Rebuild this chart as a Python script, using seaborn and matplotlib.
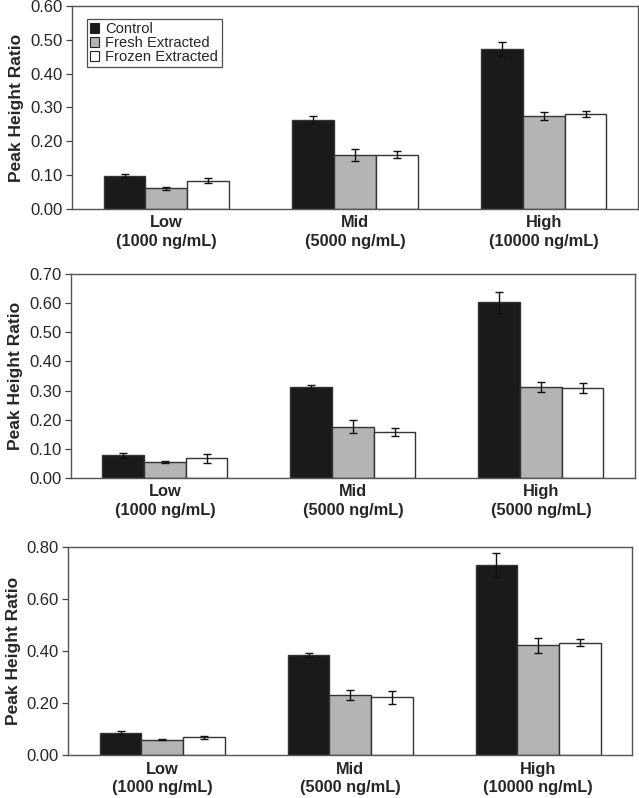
import matplotlib
matplotlib.use("Agg")
import matplotlib.pyplot as plt
import seaborn as sns
import pandas as pd
from matplotlib.patches import Patch


levels = ["Low", "Mid", "High"]
groups = ["Control", "Fresh Extracted", "Frozen Extracted"]

top_labels = ["Low\n(1000 ng/mL)", "Mid\n(5000 ng/mL)", "High\n(10000 ng/mL)"]
mid_labels = ["Low\n(1000 ng/mL)", "Mid\n(5000 ng/mL)", "High\n(5000 ng/mL)"]
bottom_labels = ["Low\n(1000 ng/mL)", "Mid\n(5000 ng/mL)", "High\n(10000 ng/mL)"]

# panel 1
top_control = [0.098, 0.263, 0.472]
top_fresh = [0.061, 0.159, 0.276]
top_frozen = [0.084, 0.161, 0.282]
top_control_err = [0.006, 0.011, 0.021]
top_fresh_err = [0.005, 0.018, 0.012]
top_frozen_err = [0.007, 0.010, 0.009]

# panel 2
mid_control = [0.078, 0.313, 0.603]
mid_fresh = [0.056, 0.176, 0.312]
mid_frozen = [0.068, 0.157, 0.309]
mid_control_err = [0.008, 0.005, 0.037]
mid_fresh_err = [0.003, 0.023, 0.018]
mid_frozen_err = [0.016, 0.013, 0.018]

# panel 3
bot_control = [0.087, 0.386, 0.732]
bot_fresh = [0.060, 0.231, 0.424]
bot_frozen = [0.069, 0.223, 0.433]
bot_control_err = [0.005, 0.009, 0.045]
bot_fresh_err = [0.002, 0.019, 0.029]
bot_frozen_err = [0.006, 0.026, 0.014]

colors = ["#1a1a1a", "#b4b4b4", "#ffffff"]

sns.set_theme(style="ticks")
plt.rcParams["font.family"] = ["Liberation Sans", "DejaVu Sans"]


def long_table(control, fresh, frozen):
    rows = []
    for g, vals in zip(groups, [control, fresh, frozen]):
        for lvl, v in zip(levels, vals):
            rows.append({"level": lvl, "group": g, "ratio": v})
    return pd.DataFrame(rows)


def draw_panel(ax, means, errs, labels, ymax, ystep):
    df = long_table(*means)
    sns.barplot(data=df, x="level", y="ratio", hue="group", order=levels,
                hue_order=groups, palette=colors, edgecolor="#333333",
                linewidth=1.0, width=0.665, errorbar=None, legend=False,
                saturation=1, ax=ax)
    for cont, err in zip(ax.containers, errs):
        for bar, e in zip(cont, err):
            ax.errorbar(bar.get_x() + bar.get_width() / 2, bar.get_height(),
                        yerr=e, fmt="none", ecolor="#111111", elinewidth=1.0,
                        capsize=3, capthick=1.0, zorder=5)
    ax.set_xlim(-0.5, 2.5)
    ax.set_ylim(0, ymax)
    ticks = [round(i * ystep, 2) for i in range(int(round(ymax / ystep)) + 1)]
    ax.set_yticks(ticks)
    ax.set_yticklabels([f"{t:.2f}" for t in ticks], fontsize=12)
    ax.set_xticks(range(3))
    ax.set_xticklabels(labels, fontsize=11.8, fontweight="bold", linespacing=1.3)
    ax.tick_params(axis="x", length=0, pad=4.5)
    ax.tick_params(axis="y", length=4, width=0.9, pad=3, color="#444444")
    ax.set_xlabel("")
    ax.set_ylabel("Peak Height Ratio", fontsize=12.5, fontweight="bold", labelpad=4)
    for s in ax.spines.values():
        s.set_visible(True)
        s.set_color("#555555")
        s.set_linewidth(1.0)


fig = plt.figure(figsize=(6.39, 7.98), dpi=100)
ax1 = fig.add_axes([0.1127, 0.7381, 0.8858, 0.2544])
ax2 = fig.add_axes([0.1111, 0.4010, 0.8826, 0.2556])
ax3 = fig.add_axes([0.1069, 0.0535, 0.8822, 0.2607])

draw_panel(ax1, [top_control, top_fresh, top_frozen],
           [top_control_err, top_fresh_err, top_frozen_err], top_labels, 0.60, 0.10)
draw_panel(ax2, [mid_control, mid_fresh, mid_frozen],
           [mid_control_err, mid_fresh_err, mid_frozen_err], mid_labels, 0.70, 0.10)
draw_panel(ax3, [bot_control, bot_fresh, bot_frozen],
           [bot_control_err, bot_fresh_err, bot_frozen_err], bottom_labels, 0.80, 0.20)

handles = [Patch(facecolor=c, edgecolor="#222222", linewidth=0.8) for c in colors]
leg = ax1.legend(handles, groups, loc="upper left", bbox_to_anchor=(0.026, 0.936),
                 frameon=True, fancybox=False, edgecolor="#222222", fontsize=10.6,
                 handlelength=0.6, handleheight=0.6, handletextpad=0.45,
                 labelspacing=0.0, borderpad=0.22, borderaxespad=0)
leg.get_frame().set_linewidth(0.9)

fig.savefig("out.png", dpi=100)
